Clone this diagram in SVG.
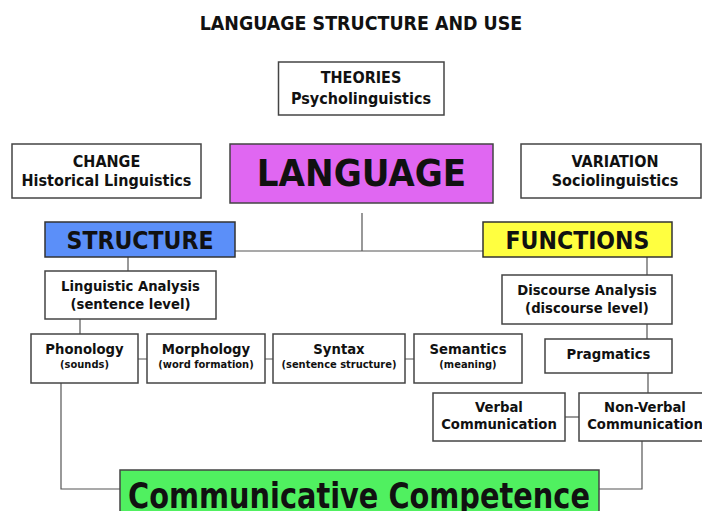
<svg xmlns="http://www.w3.org/2000/svg" width="702" height="511" viewBox="0 0 702 511">
<style>
text{font-family:'DejaVu Sans Condensed','DejaVu Sans',sans-serif;font-weight:bold;fill:#111;text-anchor:middle}
.box{fill:#fff;stroke:#444;stroke-width:1.5}
.t16{font-size:16px}
.t15{font-size:14.7px}
.t11{font-size:11px}
.big{font-size:24.5px}
.conn{fill:none;stroke:#555;stroke-width:1.2}
</style>
<rect width="702" height="511" fill="#fff"/>
<text x="361" y="30" style="font-size:19.4px">LANGUAGE STRUCTURE AND USE</text>
<g class="conn" id="connectors">
<path d="M362,213 V251 M235,251 H483"/>
<path d="M128,257 V271"/>
<path d="M80,319 V334"/>
<path d="M138,359 H147 M265,359 H273 M405,359 H414"/>
<path d="M647,257 V275 M647,324 V339 M648,373 V393"/>
<path d="M565,417 H579"/>
<path d="M61,383 V489 H120"/>
<path d="M642,441 V489 H599"/>
</g>
<g id="theories"><rect class="box" x="278.5" y="62" width="165.5" height="53"/>
<text class="t16" x="361" y="83">THEORIES</text><text class="t16" x="361" y="104">Psycholinguistics</text></g>
<g id="change"><rect class="box" x="12" y="144" width="189" height="54"/>
<text class="t16" x="106.5" y="167">CHANGE</text><text class="t16" x="106.5" y="186">Historical Linguistics</text></g>
<g id="language"><rect x="230" y="144" width="263" height="59" fill="#e067f2" stroke="#444" stroke-width="1.5"/>
<text x="361.5" y="186" style="font-size:38px">LANGUAGE</text></g>
<g id="variation"><rect class="box" x="521" y="144" width="180" height="54"/>
<text class="t16" x="615" y="167">VARIATION</text><text class="t16" x="615" y="186">Sociolinguistics</text></g>
<g id="structure"><rect x="45" y="222" width="190" height="35" fill="#5b8ff9" stroke="#333" stroke-width="1.5"/>
<text class="big" x="140" y="249">STRUCTURE</text></g>
<g id="functions"><rect x="483" y="222" width="189" height="35" fill="#ffff40" stroke="#333" stroke-width="1.5"/>
<text class="big" x="577.5" y="249">FUNCTIONS</text></g>
<g id="linguistic"><rect class="box" x="45" y="271" width="171" height="48"/>
<text class="t15" x="130.5" y="291">Linguistic Analysis</text><text class="t15" x="130.5" y="309">(sentence level)</text></g>
<g id="phonology"><rect class="box" x="31" y="334" width="107" height="49"/>
<text class="t15" x="84.5" y="354">Phonology</text><text class="t11" x="84.5" y="368">(sounds)</text></g>
<g id="morphology"><rect class="box" x="147" y="334" width="118" height="49"/>
<text class="t15" x="206" y="354">Morphology</text><text class="t11" x="206" y="368">(word formation)</text></g>
<g id="syntax"><rect class="box" x="273" y="334" width="132" height="49"/>
<text class="t15" x="339" y="354">Syntax</text><text class="t11" x="339" y="368">(sentence structure)</text></g>
<g id="semantics"><rect class="box" x="414" y="334" width="108" height="49"/>
<text class="t15" x="468" y="354">Semantics</text><text class="t11" x="468" y="368">(meaning)</text></g>
<g id="discourse"><rect class="box" x="502" y="275" width="170" height="49"/>
<text class="t15" x="587" y="295">Discourse Analysis</text><text class="t15" x="587" y="313">(discourse level)</text></g>
<g id="pragmatics"><rect class="box" x="545" y="339" width="127" height="34"/>
<text class="t15" x="608.5" y="359">Pragmatics</text></g>
<g id="verbal"><rect class="box" x="433" y="393" width="132" height="48"/>
<text class="t15" x="499" y="412">Verbal</text><text class="t15" x="499" y="429">Communication</text></g>
<g id="nonverbal"><rect class="box" x="579" y="393" width="132" height="48"/>
<text class="t15" x="645" y="412">Non-Verbal</text><text class="t15" x="645" y="429">Communication</text></g>
<g id="competence"><rect x="120" y="470" width="479" height="50" fill="#50f060" stroke="#444" stroke-width="1.5"/>
<text x="359" y="508" style="font-size:35px" textLength="462" lengthAdjust="spacingAndGlyphs">Communicative Competence</text></g>
</svg>
